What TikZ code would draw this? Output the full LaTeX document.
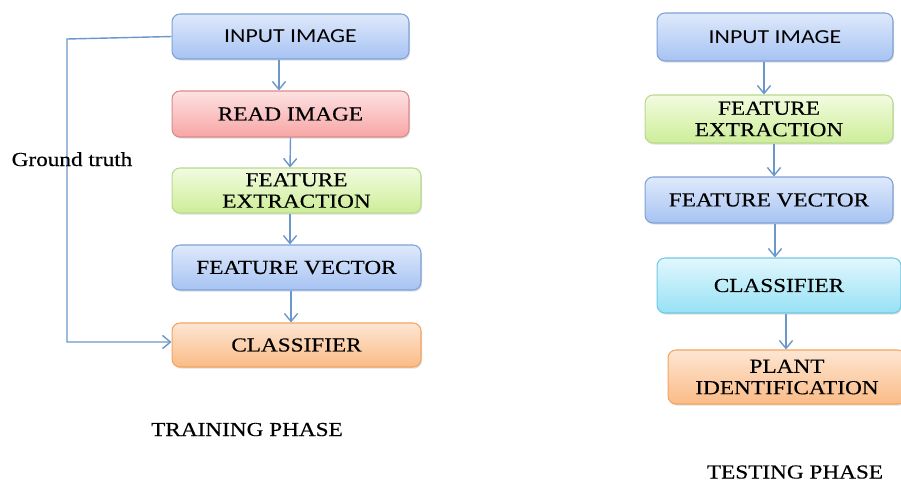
\documentclass[tikz,border=0pt]{standalone}
\usepackage{fontspec}
\setmainfont{Liberation Serif}[FakeStretch=1.17,FakeBold=0.3]
\newfontfamily\boxsans{Carlito}[FakeStretch=1.2]
\usetikzlibrary{arrows.meta,shadows}

\definecolor{blueTop}{HTML}{DFE9FB}
\definecolor{blueBot}{HTML}{A6C3F3}
\definecolor{blueLine}{HTML}{7EA2D6}
\definecolor{redTop}{HTML}{FDE2E2}
\definecolor{redBot}{HTML}{F8A5A5}
\definecolor{redLine}{HTML}{D98B8B}
\definecolor{greenTop}{HTML}{F2FBE0}
\definecolor{greenBot}{HTML}{CDEE98}
\definecolor{greenLine}{HTML}{B9D98E}
\definecolor{orangeTop}{HTML}{FDE6D3}
\definecolor{orangeBot}{HTML}{FBBB86}
\definecolor{orangeLine}{HTML}{F4A460}
\definecolor{cyanTop}{HTML}{E2F7FD}
\definecolor{cyanBot}{HTML}{96E1F5}
\definecolor{cyanLine}{HTML}{72C8E2}
\definecolor{arrowBlue}{HTML}{6B97CB}

\begin{document}
\begin{tikzpicture}[x=0.02cm,y=-0.02cm,
  box/.style={draw, rounded corners=4.5pt, line width=0.6pt, inner sep=0pt,
    align=center, font=\fontsize{11.3}{12.2}\selectfont,
    drop shadow={shadow xshift=0.6pt, shadow yshift=-0.9pt, opacity=0.25}},
  sans/.style={font=\boxsans\fontsize{11.3}{12.2}\selectfont},
  bluebox/.style={box, draw=blueLine, top color=blueTop, bottom color=blueBot},
  redbox/.style={box, draw=redLine, top color=redTop, bottom color=redBot},
  greenbox/.style={box, draw=greenLine, top color=greenTop, bottom color=greenBot},
  orangebox/.style={box, draw=orangeLine, top color=orangeTop, bottom color=orangeBot},
  cyanbox/.style={box, draw=cyanLine, top color=cyanTop, bottom color=cyanBot},
  flow/.style={draw=arrowBlue, line width=0.8pt, -{Straight Barb[length=4.5pt,width=7.5pt]}},
  caption/.style={anchor=base, font=\fontsize{11.3}{12.2}\selectfont}]

  \useasboundingbox (0,0) rectangle (901,481);
  \clip (0,0) rectangle (901,481);

  % Training phase
  \node[bluebox, sans, minimum width=4.74cm, minimum height=0.9cm] (in1) at (290.5,36.5) {INPUT IMAGE};
  \node[redbox, minimum width=4.74cm, minimum height=0.92cm] (rd1) at (290.5,114) {READ IMAGE};
  \node[greenbox, minimum width=4.98cm, minimum height=0.9cm] (fe1) at (296.5,190.5) {FEATURE\\EXTRACTION};
  \node[bluebox, minimum width=4.98cm, minimum height=0.9cm] (fv1) at (296.5,267.5) {FEATURE VECTOR};
  \node[orangebox, minimum width=4.98cm, minimum height=0.88cm] (cl1) at (296.5,345) {CLASSIFIER};

  \draw[flow] ([xshift=-0.23cm]in1.south) -- ([xshift=-0.23cm]rd1.north);
  \draw[flow] (rd1.south) -- ([xshift=-0.13cm]fe1.north);
  \draw[flow] ([xshift=-0.13cm]fe1.south) -- ([xshift=-0.13cm]fv1.north);
  \draw[flow] ([xshift=-0.11cm]fv1.south) -- ([xshift=-0.11cm]cl1.north);

  % Ground truth loop
  \coordinate (gt1) at (67,39);
  \coordinate (gt2) at (67,342);
  \draw[flow] (in1.west) -- (gt1) -- (gt2) -- (gt2 -| cl1.west);
  \node[caption] (gt) at (72,166) {Ground truth};

  \node[caption] (train) at (247,436) {TRAINING PHASE};

  % Testing phase
  \node[bluebox, sans, minimum width=4.72cm, minimum height=0.96cm] (in2) at (775,37) {INPUT IMAGE};
  \node[greenbox, minimum width=4.96cm, minimum height=0.96cm] (fe2) at (769,119) {FEATURE\\EXTRACTION};
  \node[bluebox, minimum width=4.96cm, minimum height=0.92cm] (fv2) at (769,200) {FEATURE VECTOR};
  \node[cyanbox, minimum width=4.88cm, minimum height=1.1cm] (cl2) at (779,285.5) {CLASSIFIER};
  \node[orangebox, minimum width=4.76cm, minimum height=1.08cm] (pi2) at (787,377) {PLANT\\IDENTIFICATION};

  \draw[flow] ([xshift=-0.22cm]in2.south) -- ([xshift=-0.22cm]in2.south |- fe2.north);
  \draw[flow] ([xshift=0.1cm]fe2.south) -- ([xshift=0.1cm]fe2.south |- fv2.north);
  \draw[flow] ([xshift=0.12cm]fv2.south) -- ([xshift=0.12cm]fv2.south |- cl2.north);
  \draw[flow] ([xshift=0.14cm]cl2.south) -- ([xshift=0.14cm]cl2.south |- pi2.north);

  \node[caption] (test) at (795,478.5) {TESTING PHASE};
\end{tikzpicture}
\end{document}
